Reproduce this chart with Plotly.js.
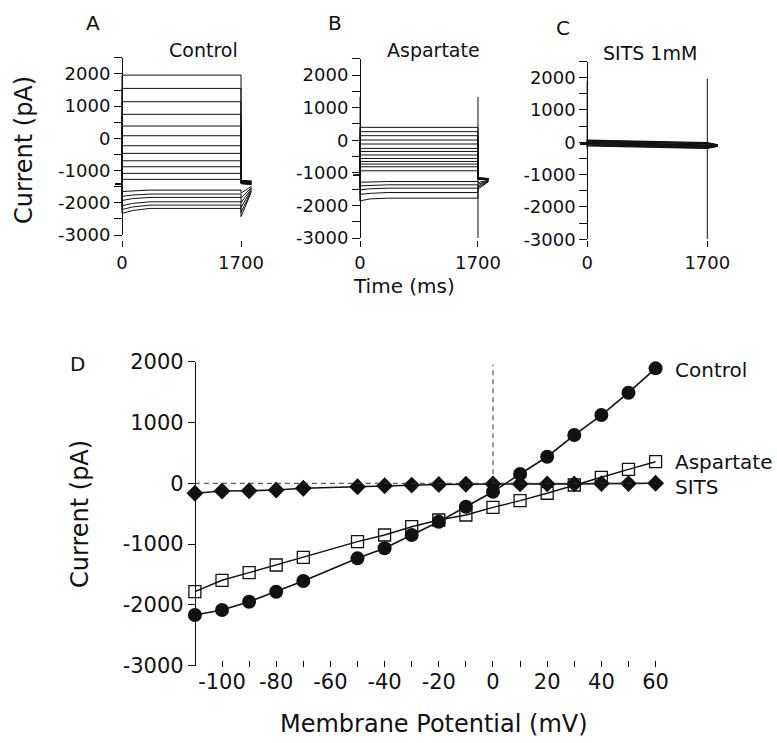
<!DOCTYPE html>
<html>
<head>
<meta charset="utf-8">
<script src="https://cdn.plot.ly/plotly-3.0.1.min.js"></script>
<style>html,body{margin:0;padding:0;background:#fff}#chart{width:777px;height:743px}</style>
</head>
<body>
<div id="chart"></div>
<script>
// ---------- DATA ----------
// Panel A (Control) current traces, pA
const aSteady  = [1963, 1550, 1137, 745, 382, 81, -230, -466, -696, -882, -1087, -1273, -1606, -1730, -1833, -1970, -2072, -2175];
const aStart   = [1963, 1550, 1137, 745, 382, 81, -230, -466, -696, -882, -1087, -1273, -1650, -1800, -1930, -2090, -2210, -2330];
const aEarly   = [1963, 1550, 1137, 745, 382, 81, -230, -466, -696, -882, -1087, -1273, -1625, -1760, -1870, -2020, -2130, -2240];
const aTail    = [-1300, -1310, -1320, -1330, -1340, -1350, -1360, -1370, -1380, -1390, -1400, -1410, -1700, -1850, -2000, -2150, -2300, -2430];
const aTailEnd = [-1330, -1340, -1350, -1360, -1370, -1380, -1390, -1400, -1410, -1420, -1430, -1440, -1450, -1460, -1470, -1480, -1490, -1500];
const aHold = -1420;

// Panel B (Aspartate) current traces, pA
const bSteady  = [394, 262, 138, 6, -117, -252, -345, -455, -560, -652, -732, -815, -938, -1268, -1369, -1471, -1606, -1778];
const bStart   = [394, 262, 138, 6, -117, -252, -345, -455, -560, -652, -732, -815, -938, -1290, -1400, -1520, -1660, -1860];
const bEarly   = [394, 262, 138, 6, -117, -252, -345, -455, -560, -652, -732, -815, -938, -1275, -1380, -1490, -1630, -1800];
const bTail    = [-1150, -1155, -1160, -1165, -1170, -1175, -1180, -1185, -1190, -1195, -1200, -1205, -1210, -1300, -1350, -1400, -1450, -1500];
const bTailEnd = [-1180, -1182, -1184, -1186, -1188, -1190, -1192, -1194, -1196, -1198, -1200, -1202, -1204, -1210, -1215, -1220, -1225, -1230];
const bHold = -1080;
const bSpikeStart = [1330, -1860];
const bSpikeEnd = [1330, -3000];

// Panel C (SITS 1mM) current traces, pA
const cStart   = [70, 50, 30, 10, -10, -30, -50, -70, -90, -110];
const cEnd     = [-10, -30, -50, -70, -90, -110, -130, -150, -170, -190];
const cTailEnd = [-90, -92, -94, -96, -98, -100, -102, -104, -106, -108];
const cHold = -50;
const cSpikeStart = [1907, -200];
const cSpikeEnd = [1960, -3000];

// time sample points (ms) of the traces
const tPre = -100, tOn = 0, tEarly = 150, tSettle = 400, tOff = 1700, tTail = 1880;
const spikeTimes = [0, 1700];

// Panel D: I-V relation
const voltages   = [-110, -100, -90, -80, -70, -50, -40, -30, -20, -10, 0, 10, 20, 30, 40, 50, 60];
const controlI   = [-2166, -2084, -1947, -1783, -1607, -1234, -1069, -850, -632, -385, -138, 153, 437, 794, 1123, 1490, 1891];
const aspartateI = [-1783, -1595, -1470, -1344, -1217, -960, -850, -714, -604, -521, -395, -286, -164, -28, 99, 230, 355];
const sitsI      = [-164, -127, -122, -110, -82, -56, -40, -30, -20, -15, -10, -10, -10, -10, -5, -5, 0];

// tick labels
const topYVals = [-3000, -2500, -2000, -1500, -1000, -500, 0, 500, 1000, 1500, 2000, 2500];
const topYText = ['-3000', '', '-2000', '', '-1000', '', '0', '', '1000', '', '2000', ''];
const topXVals = [0, 1700];
const topXText = ['0', '1700'];
const dYVals = [-3000, -2000, -1000, 0, 1000, 2000];
const dYText = ['-3000', '-2000', '-1000', '0', '1000', '2000'];
const dXVals = [-100, -90, -80, -70, -60, -50, -40, -30, -20, -10, 0, 10, 20, 30, 40, 50, 60];
const dXText = ['-100', '', '-80', '', '-60', '', '-40', '', '-20', '', '0', '', '20', '', '40', '', '60'];

// ---------- LAYOUT HELPERS ----------
const W = 777, H = 743;
const px = v => v / W;
const py = v => 1 - v / H;
const FONT = 'DejaVu Sans, Liberation Sans, Arial, sans-serif';
const INK = '#111';

const traces = [];
function lineTrace(x, y, xa, ya, w) {
  traces.push({x: x, y: y, xaxis: xa, yaxis: ya, mode: 'lines', type: 'scatter',
    line: {color: INK, width: w || 1}, hoverinfo: 'skip', showlegend: false});
}

// Panel A
aSteady.forEach((s, i) => {
  lineTrace([tPre, tOn, tOn, tEarly, tSettle, tOff, tOff, tTail],
            [aHold, aHold, aStart[i], aEarly[i], s, s, aTail[i], aTailEnd[i]], 'x', 'y', 1);
});
// Panel B
bSteady.forEach((s, i) => {
  lineTrace([tPre, tOn, tOn, tEarly, tSettle, tOff, tOff, tTail],
            [bHold, bHold, bStart[i], bEarly[i], s, s, bTail[i], bTailEnd[i]], 'x2', 'y2', 1);
});
lineTrace([spikeTimes[0], spikeTimes[0]], bSpikeStart, 'x2', 'y2', 1);
lineTrace([spikeTimes[1], spikeTimes[1]], bSpikeEnd, 'x2', 'y2', 1);
// Panel C
cStart.forEach((s, i) => {
  lineTrace([tPre, tOn, tOn, tOff, tTail],
            [cHold, cHold, s, cEnd[i], cTailEnd[i]], 'x3', 'y3', 1.2);
});
lineTrace([spikeTimes[0], spikeTimes[0]], cSpikeStart, 'x3', 'y3', 1.2);
lineTrace([spikeTimes[1], spikeTimes[1]], cSpikeEnd, 'x3', 'y3', 1);

// Panel D
traces.push({x: voltages, y: aspartateI, xaxis: 'x4', yaxis: 'y4', type: 'scatter', mode: 'lines+markers',
  line: {color: INK, width: 1.4}, cliponaxis: false,
  marker: {symbol: 'square-open', size: 12, color: INK, line: {width: 1.3, color: INK}}, showlegend: false});
traces.push({x: voltages, y: sitsI, xaxis: 'x4', yaxis: 'y4', type: 'scatter', mode: 'lines+markers',
  line: {color: INK, width: 1.6}, cliponaxis: false,
  marker: {symbol: 'diamond', size: 13, color: INK}, showlegend: false});
traces.push({x: voltages, y: controlI, xaxis: 'x4', yaxis: 'y4', type: 'scatter', mode: 'lines+markers',
  line: {color: INK, width: 1.6}, cliponaxis: false,
  marker: {symbol: 'circle', size: 14, color: INK}, showlegend: false});

// axes
function topX(domain) {
  return {domain: domain, range: [-100, 1850], anchor: 'free', position: py(240),
    showline: false, showgrid: false, zeroline: false,
    tickmode: 'array', tickvals: topXVals, ticktext: topXText,
    ticks: 'outside', ticklen: 6, tickwidth: 1, tickcolor: INK,
    tickfont: {family: FONT, size: 18, color: INK}};
}
function topY(domain, pos) {
  return {domain: domain, range: [-3000, 2500], anchor: 'free', position: pos,
    showline: true, linecolor: INK, linewidth: 1, showgrid: false, zeroline: false,
    tickmode: 'array', tickvals: topYVals, ticktext: topYText,
    ticks: 'outside', ticklen: 8, tickwidth: 1, tickcolor: INK,
    tickfont: {family: FONT, size: 18, color: INK}};
}

const layout = {
  width: W, height: H, autosize: false,
  margin: {l: 0, r: 0, t: 0, b: 0, pad: 0},
  paper_bgcolor: '#fff', plot_bgcolor: 'rgba(0,0,0,0)',
  showlegend: false,
  font: {family: FONT, color: INK},
  xaxis:  topX([px(115), px(251.5)]),
  yaxis:  topY([py(235), py(57.8)], px(122)),
  xaxis2: topX([px(353.1), px(488.4)]),
  yaxis2: topY([py(238), py(58.7)], px(360)),
  xaxis3: topX([px(580.2), px(717.9)]),
  yaxis3: topY([py(239.3), py(61.5)], px(587.3)),
  xaxis4: {domain: [px(194.9), px(661)], range: [-110, 62], anchor: 'free', position: py(667),
    showline: false, showgrid: false, zeroline: false,
    tickmode: 'array', tickvals: dXVals, ticktext: dXText,
    ticks: 'inside', ticklen: 6, tickwidth: 1, tickcolor: INK,
    tickfont: {family: FONT, size: 21, color: INK}},
  yaxis4: {domain: [py(665.7), py(361.7)], range: [-3000, 2000], anchor: 'free', position: px(194.9),
    showline: true, linecolor: INK, linewidth: 1, showgrid: false, zeroline: false,
    tickmode: 'array', tickvals: dYVals, ticktext: dYText,
    ticks: 'outside', ticklen: 7, tickwidth: 1, tickcolor: INK,
    tickfont: {family: FONT, size: 21, color: INK}},
  shapes: [
    {type: 'line', xref: 'x4', yref: 'y4', x0: -110, x1: 60, y0: 0, y1: 0,
     line: {color: '#333', width: 1, dash: '5px,4px'}},
    {type: 'line', xref: 'x4', yref: 'y4', x0: 0, x1: 0, y0: 0, y1: 1950,
     line: {color: '#333', width: 1, dash: '5px,4px'}}
  ],
  annotations: []
};

function ann(text, x, y, size, opts) {
  layout.annotations.push(Object.assign({text: text, x: px(x), y: py(y), xref: 'paper', yref: 'paper',
    showarrow: false, xanchor: 'center', yanchor: 'middle',
    font: {family: FONT, size: size, color: INK}}, opts || {}));
}
ann('A', 93, 23, 20);
ann('B', 335, 23, 20);
ann('C', 563, 28, 20);
ann('D', 77, 364, 20);
ann('Control', 203, 50, 19);
ann('Aspartate', 434, 50, 19);
ann('SITS 1mM', 650, 53, 19);
ann('Current (pA)', 24, 150, 24, {textangle: -90});
ann('Time (ms)', 404, 286, 20);
ann('Current (pA)', 80, 514, 24, {textangle: -90});
ann('Membrane Potential (mV)', 434, 724, 24);
ann('Control', 673, 370, 20, {xanchor: 'left'});
ann('Aspartate', 673, 462, 20, {xanchor: 'left'});
ann('SITS', 673, 487, 20, {xanchor: 'left'});

Plotly.newPlot('chart', traces, layout, {staticPlot: true, displayModeBar: false});
</script>
</body>
</html>
